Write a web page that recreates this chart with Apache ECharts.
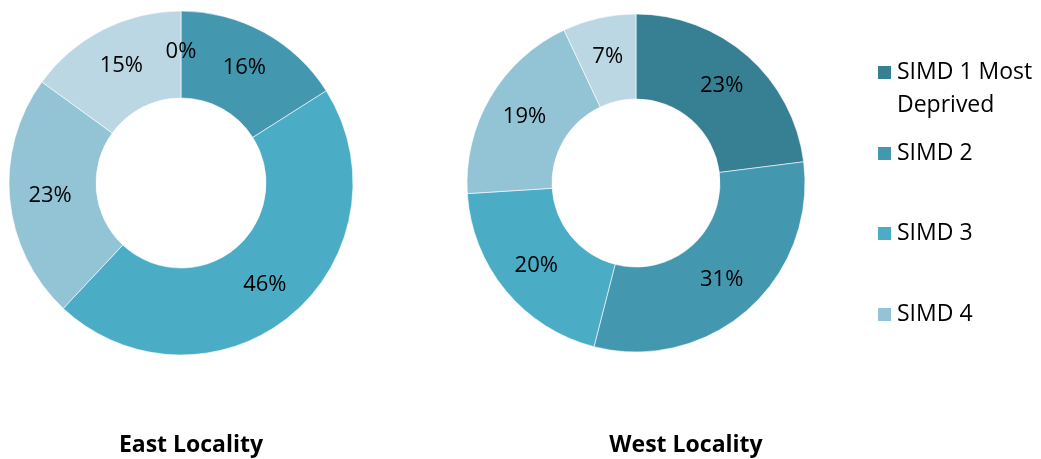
<!DOCTYPE html>
<html>
<head>
<meta charset="utf-8">
<script src="https://cdn.jsdelivr.net/npm/echarts@6/dist/echarts.min.js"></script>
<style>
  html, body { margin: 0; padding: 0; background: #fff; }
  #chart { width: 1041px; height: 459px; }
</style>
</head>
<body>
<div id="chart"></div>
<script>
// SIMD quintile categories (the legend in the source only shows the first four)
var categories = ['SIMD 1 Most Deprived', 'SIMD 2', 'SIMD 3', 'SIMD 4', 'SIMD 5 Least Deprived'];
var eastValues = [0, 16, 46, 23, 15];
var westValues = [23, 31, 20, 19, 7];
var localityNames = ['East Locality', 'West Locality'];
var legendShown = ['SIMD 1 Most Deprived', 'SIMD 2', 'SIMD 3', 'SIMD 4'];

var colors = ['#377f93', '#4398b0', '#4bacc6', '#93c4d6', '#bbd7e3'];
var fontName = '"Open Sans", "Noto Sans", sans-serif';

var chart = echarts.init(document.getElementById('chart'));

function toData(values) {
    return values.map(function (v, i) {
        return { name: categories[i], value: v };
    });
}

function donut(name, values, center, radius) {
    return {
        name: name,
        type: 'pie',
        center: center,
        radius: radius,
        startAngle: 90,
        clockwise: true,
        avoidLabelOverlap: false,
        stillShowZeroSum: true,
        minAngle: 0,
        itemStyle: {
            borderColor: '#ffffff',
            borderWidth: 0.6
        },
        label: {
            show: true,
            position: 'inside',
            formatter: '{c}%',
            color: '#000',
            fontFamily: fontName,
            fontSize: 22
        },
        labelLine: { show: false },
        emphasis: { disabled: true },
        data: toData(values)
    };
}

// one legend per item so the spacing matches the source
// (first item wraps; a blank leading line keeps the swatch on its first line)
var legendTops = [23, 137, 217, 298];
var legends = legendShown.map(function (name, i) {
    return {
        data: [name],
        left: 876,
        top: legendTops[i],
        orient: 'vertical',
        icon: 'rect',
        itemWidth: 15,
        itemHeight: 15,
        itemGap: 0,
        padding: 0,
        selectedMode: false,
        formatter: function (n) {
            return n === 'SIMD 1 Most Deprived' ? ' \nSIMD 1 Most\nDeprived' : n;
        },
        textStyle: {
            fontFamily: fontName,
            fontSize: 23,
            color: '#000',
            lineHeight: 33
        }
    };
});

var option = {
    backgroundColor: '#ffffff',
    color: colors,
    animation: false,
    legend: legends,
    graphic: [
        {
            type: 'text',
            x: 191,
            y: 445,
            style: {
                text: localityNames[0],
                font: 'bold 23px ' + fontName,
                fill: '#000',
                align: 'center',
                verticalAlign: 'middle'
            }
        },
        {
            type: 'text',
            x: 686,
            y: 445,
            style: {
                text: localityNames[1],
                font: 'bold 23px ' + fontName,
                fill: '#000',
                align: 'center',
                verticalAlign: 'middle'
            }
        }
    ],
    series: [
        donut(localityNames[0], eastValues, [181, 183], [85, 172]),
        donut(localityNames[1], westValues, [636, 183], [84, 169])
    ]
};

chart.setOption(option);
</script>
</body>
</html>
